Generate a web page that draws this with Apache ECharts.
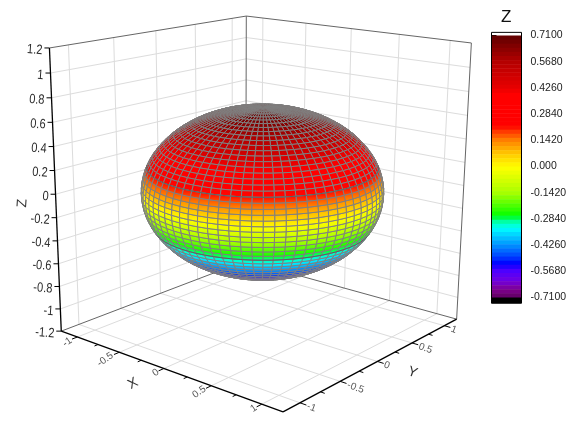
<!DOCTYPE html>
<html><head><meta charset="utf-8">
<style>html,body{margin:0;padding:0;background:#fff}#c{width:571px;height:433px}</style>
<script src="https://cdn.jsdelivr.net/npm/echarts@6/dist/echarts.min.js"></script>
</head><body><div id="c"></div>
<script>
// ---- data ----
const zTicks = [-1.2,-1,-0.8,-0.6,-0.4,-0.2,0,0.2,0.4,0.6,0.8,1,1.2];
const zTickLabels = ['-1.2','-1','-0.8','-0.6','-0.4','-0.2','0','0.2','0.4','0.6','0.8','1','1.2'];
const xyTicks = [-1,-0.5,0,0.5,1];
const xyTickLabels = ['-1','-0.5','0','0.5','1'];
const xyMinorTicks = [-0.75,-0.25,0.25,0.75];
const axisLimit = 1.2;
// surface rows: height and horizontal radius of each ring, south to north
const ringZ = [-0.7,-0.699,-0.694,-0.688,-0.678,-0.666,-0.651,-0.633,-0.613,-0.591,-0.566,-0.539,-0.51,-0.479,-0.446,-0.411,-0.375,-0.337,-0.298,-0.258,-0.216,-0.174,-0.131,-0.088,-0.044,0,0.044,0.088,0.131,0.174,0.216,0.258,0.298,0.337,0.375,0.411,0.446,0.479,0.51,0.539,0.566,0.591,0.613,0.633,0.651,0.666,0.678,0.688,0.694,0.699,0.7];
const ringRadius = [0,0.063,0.125,0.187,0.249,0.309,0.368,0.426,0.482,0.536,0.588,0.637,0.685,0.729,0.771,0.809,0.844,0.876,0.905,0.93,0.951,0.969,0.982,0.992,0.998,1,0.998,0.992,0.982,0.969,0.951,0.93,0.905,0.876,0.844,0.809,0.771,0.729,0.685,0.637,0.588,0.536,0.482,0.426,0.368,0.309,0.249,0.187,0.125,0.063,0];
const darkRings = [18,30];
const meridianCount = 72;
const surfaceCentreZ = -0.008;
// colour scale
const legendTicks = [0.71,0.568,0.426,0.284,0.142,0,-0.142,-0.284,-0.426,-0.568,-0.71];
const legendLabels = ['0.7100','0.5680','0.4260','0.2840','0.1420','0.000','-0.1420','-0.2840','-0.4260','-0.5680','-0.7100'];
const colorValues = [0.71,0.568,0.43,0.39,0.22,0.19,0.142,0.07,-0.005,-0.142,-0.27,-0.285,-0.335,-0.426,-0.49,-0.525,-0.568,-0.62,-0.665,-0.71];
const colorHexes = ['#5e0000','#b40000','#e60000','#ff0000','#ff0000','#ff3800','#ff8000','#ffc800','#ffff00','#a8ff00','#00ff00','#00ff80','#00ffff','#0090ff','#0040ff','#0000ff','#5000ff','#7000e0','#800090','#600060'];
const legendBandCount = 64;

// ---- view: where the box corners of the 3D frame fall on the page ----
const frameCorners = [
  [-1,-1,-1, 61.7,331],[1,-1,-1, 283,412],[1,1,-1, 457,319],[-1,1,-1, 245,261],
  [-1,-1,1, 49,48],[-1,1,1, 247,16],[1,1,1, 471,43]
];
function solve(A,b){const n=b.length;A=A.map((r,i)=>[...r,b[i]]);
  for(let i=0;i<n;i++){let p=i;for(let k=i+1;k<n;k++)if(Math.abs(A[k][i])>Math.abs(A[p][i]))p=k;
    [A[i],A[p]]=[A[p],A[i]];
    for(let k=0;k<n;k++){if(k===i)continue;const f=A[k][i]/A[i][i];for(let j=i;j<=n;j++)A[k][j]-=f*A[i][j];}}
  return A.map((r,i)=>r[n]/r[i]);}
const P=(()=>{const R=[],B=[];
  frameCorners.forEach(([X,Y,Z,u,v])=>{
    R.push([X,Y,Z,1,0,0,0,0,-u*X,-u*Y,-u*Z]);B.push(u);
    R.push([0,0,0,0,X,Y,Z,1,-v*X,-v*Y,-v*Z]);B.push(v);});
  const N=R[0].map((_,i)=>R[0].map((_,j)=>R.reduce((s,r)=>s+r[i]*r[j],0)));
  const V=R[0].map((_,i)=>R.reduce((s,r,k)=>s+r[i]*B[k],0));
  return solve(N,V);})();
function project(x,y,z){const X=x/axisLimit,Y=y/axisLimit,Z=z/axisLimit;
  const w=P[8]*X+P[9]*Y+P[10]*Z+1;
  return [(P[0]*X+P[1]*Y+P[2]*Z+P[3])/w,(P[4]*X+P[5]*Y+P[6]*Z+P[7])/w];}
const camera=solve([[P[0],P[1],P[2]],[P[4],P[5],P[6]],[P[8],P[9],P[10]]],[-P[3],-P[7],-1]).map(v=>v*axisLimit);

function hex(c){return [1,3,5].map(i=>parseInt(c.substr(i,2),16));}
function colorOf(v){
  if(v>=colorValues[0])return colorHexes[0];
  for(let i=1;i<colorValues.length;i++){if(v>=colorValues[i]){
    const t=(v-colorValues[i])/(colorValues[i-1]-colorValues[i]),a=hex(colorHexes[i]),b=hex(colorHexes[i-1]);
    return 'rgb('+a.map((q,k)=>Math.round(q+(b[k]-q)*t)).join(',')+')';}}
  return colorHexes[colorHexes.length-1];}

// ---- surface cells, far ones first ----
const facesCamera=(p)=>{const n=[p[0],p[1],(p[2]-surfaceCentreZ)/(0.7*0.7)];
  return n[0]*(camera[0]-p[0])+n[1]*(camera[1]-p[1])+n[2]*(camera[2]-p[2])>0;};
const ringPoint=(i,a)=>[ringRadius[i]*Math.cos(a),ringRadius[i]*Math.sin(a),ringZ[i]+surfaceCentreZ];
const cells=[];
for(let r=0;r<ringZ.length-1;r++)for(let m=0;m<meridianCount;m++){
  const a0=m/meridianCount*2*Math.PI,a1=(m+1)/meridianCount*2*Math.PI;
  const pts=[[r,a0],[r,a1],[r+1,a1],[r+1,a0]].map(([i,a])=>ringPoint(i,a));
  const c=[0,1,2].map(k=>pts.reduce((s,p)=>s+p[k],0)/4);
  const d=Math.hypot(c[0]-camera[0],c[1]-camera[1],c[2]-camera[2]);
  cells.push({d,front:facesCamera(c),lo:ringZ[r],hi:ringZ[r+1],pts});
}
cells.sort((a,b)=>b.d-a.d);

// ---- frame lines in axis units ----
const L=axisLimit, gridSegs=[];
zTicks.forEach(z=>{ if(Math.abs(z)<L){ gridSegs.push([[-L,-L,z],[-L,L,z]]); gridSegs.push([[-L,L,z],[L,L,z]]); }});
xyTicks.forEach(t=>{
  gridSegs.push([[-L,t,-L],[L,t,-L]]); gridSegs.push([[t,-L,-L],[t,L,-L]]);
  gridSegs.push([[-L,t,-L],[-L,t,L]]); gridSegs.push([[t,L,-L],[t,L,L]]);
});
const edgeSegs=[[[-L,-L,L],[-L,L,L]],[[-L,L,L],[L,L,L]],[[-L,L,-L],[-L,L,L]],[[L,L,-L],[L,L,L]],[[-L,-L,-L],[-L,L,-L]],[[-L,L,-L],[L,L,-L]]];
const axisSegs=[[[-L,-L,-L],[-L,-L,L]],[[-L,-L,-L],[L,-L,-L]],[[L,-L,-L],[L,L,-L]]];

const line=(a,b,stroke,w)=>{const p=project(...a),q=project(...b);
  return {type:'line',silent:true,shape:{x1:p[0],y1:p[1],x2:q[0],y2:q[1]},style:{stroke,lineWidth:w}};};
const text=(s,x,y,rot,font,fill,align,sx)=>({type:'text',silent:true,x,y,rotation:rot,scaleX:sx||1,
  style:{text:s,x:0,y:0,font,fill,align:align||'center',verticalAlign:'middle'}});

function renderFrame(){
  const children=[];
  gridSegs.forEach(s=>children.push(line(s[0],s[1],'#dcdcdc',1)));
  edgeSegs.forEach(s=>children.push(line(s[0],s[1],'#666',1)));
  return {type:'group',children};
}
function renderAxes(){
  const c=[];
  axisSegs.forEach(s=>c.push(line(s[0],s[1],'#000',1.3)));
  zTicks.forEach((z,i)=>{const p=project(-L,-L,z);
    c.push({type:'line',silent:true,shape:{x1:p[0]-5,y1:p[1],x2:p[0],y2:p[1]},style:{stroke:'#000',lineWidth:1}});
    c.push(text(zTickLabels[i],p[0]-7,p[1]+2.5,-0.07,'13.5px "Liberation Sans"','#2a2a2a','right',0.82));});
  xyTicks.forEach((t,i)=>{
    const lab=xyTickLabels[i];
    c.push(line([t,-L,-L],[t,-L-0.06,-L],'#000',1));
    c.push(line([L,t,-L],[L+0.06,t,-L],'#000',1));
    const p=project(t,-L,-L),q=project(L,t,-L);
    const dx=7+2.3*lab.length, dy=8+2.2*lab.length;
    c.push(text(lab,p[0]-0.87*dx,p[1]+0.45*dx,0.6,'10px "Liberation Sans"','#555'));
    c.push(text(lab,q[0]+0.92*dy,q[1]+0.38*dy,-0.35,'10px "Liberation Sans"','#555'));
  });
  xyMinorTicks.forEach(t=>{
    c.push(line([t,-L,-L],[t,-L-0.04,-L],'#000',1));
    c.push(line([L,t,-L],[L+0.04,t,-L],'#000',1));
  });
  const px=project(0,-L,-L),py=project(L,0,-L),pz=project(-L,-L,0);
  c.push(text('X',px[0]-31,px[1]+15,0.5,'14px "Liberation Sans"','#333'));
  c.push(text('Y',py[0]+35,py[1]+11,-0.35,'14px "Liberation Sans"','#333'));
  c.push(text('Z',pz[0]-33,pz[1]+9,1.5,'14px "Liberation Sans"','#333'));
  return {type:'group',children:c};
}
function renderCell(params,api){
  const cell=cells[api.value(0)];
  const points=cell.pts.map(p=>project(p[0],p[1],p[2]));
  const fill=cell.front?{type:'linear',x:0,y:0,x2:0,y2:1,colorStops:[{offset:0,color:colorOf(cell.hi)},{offset:1,color:colorOf(cell.lo)}]}:'#808080';
  return {type:'polygon',silent:true,shape:{points},style:{fill,stroke:'#808080',lineWidth:1}};
}
function renderDarkRing(params,api){
  const idx=darkRings[api.value(0)],c=[];
  for(let m=0;m<meridianCount;m++){
    const a0=m/meridianCount*2*Math.PI,a1=(m+1)/meridianCount*2*Math.PI;
    const p=ringPoint(idx,a0),q=ringPoint(idx,a1);
    if(facesCamera(p)&&facesCamera(q))c.push(line(p,q,'#5f5f5f',1));
  }
  return {type:'group',children:c};
}
// colour bar
const bandTop=i=>legendTicks[0]-i*(2*legendTicks[0])/legendBandCount;
const bands=[];for(let i=0;i<legendBandCount;i++)bands.push(i);
function renderBand(params,api){
  const i=api.value(0);
  const a=api.coord([0,bandTop(i)]),b=api.coord([1,bandTop(i+1)]);
  return {type:'rect',silent:true,shape:{x:a[0],y:a[1],width:b[0]-a[0],height:b[1]-a[1]+0.5},
    style:{fill:colorOf((bandTop(i)+bandTop(i+1))/2)}};
}
function renderBarFrame(params,api){
  const a=api.coord([0,0.727]),b=api.coord([1,0.71]),c=api.coord([0,-0.71]),d=api.coord([1,-0.741]);
  return {type:'group',children:[
    {type:'rect',silent:true,shape:{x:c[0],y:c[1],width:d[0]-c[0],height:d[1]-c[1]},style:{fill:'#000'}},
    {type:'rect',silent:true,shape:{x:a[0],y:a[1],width:b[0]-a[0],height:d[1]-a[1]},style:{fill:'none',stroke:'#000',lineWidth:1}}
  ]};
}

const chart=echarts.init(document.getElementById('c'),null,{renderer:'canvas'});
const cellIndex=cells.map((_,i)=>[i]);
const stage={type:'custom',coordinateSystem:'cartesian2d',xAxisIndex:0,yAxisIndex:0,clip:false,silent:true,progressive:0};
chart.setOption({
  animation:false,backgroundColor:'#fff',
  title:{text:'Z',left:496,top:4,textStyle:{fontFamily:'Liberation Sans',fontSize:17,fontWeight:'normal',color:'#111'}},
  grid:[{left:0,top:0,width:571,height:433},{left:491.5,top:35.5,width:30,height:262}],
  xAxis:[{gridIndex:0,type:'value',min:0,max:571,show:false},{gridIndex:1,type:'value',min:0,max:1,show:false}],
  yAxis:[{gridIndex:0,type:'value',min:0,max:433,inverse:true,show:false},
    {gridIndex:1,type:'value',position:'right',min:-0.71,max:0.71,interval:0.142,
     splitLine:{show:false},axisLine:{show:false},
     axisTick:{show:true,length:5,lineStyle:{color:'#000',width:1}},
     axisLabel:{margin:9,fontFamily:'Liberation Sans',fontSize:10.5,color:'#222',
       formatter:v=>{let k=0,b=9;legendTicks.forEach((t,i)=>{if(Math.abs(t-v)<b){b=Math.abs(t-v);k=i;}});return legendLabels[k];}}}],
  series:[
    {...stage,data:[[0]],renderItem:renderFrame,z:1},
    {...stage,data:[[0]],renderItem:renderAxes,z:4},
    {...stage,data:cellIndex,encode:{x:0,y:0},renderItem:renderCell,z:2},
    {...stage,data:darkRings.map((_,i)=>[i]),renderItem:renderDarkRing,z:3},
    {type:'custom',coordinateSystem:'cartesian2d',xAxisIndex:1,yAxisIndex:1,data:bands.map(i=>[i]),clip:false,renderItem:renderBand,silent:true,progressive:0,z:2},
    {type:'custom',coordinateSystem:'cartesian2d',xAxisIndex:1,yAxisIndex:1,data:[[0]],clip:false,renderItem:renderBarFrame,silent:true,z:3}
  ]
});
</script></body></html>
